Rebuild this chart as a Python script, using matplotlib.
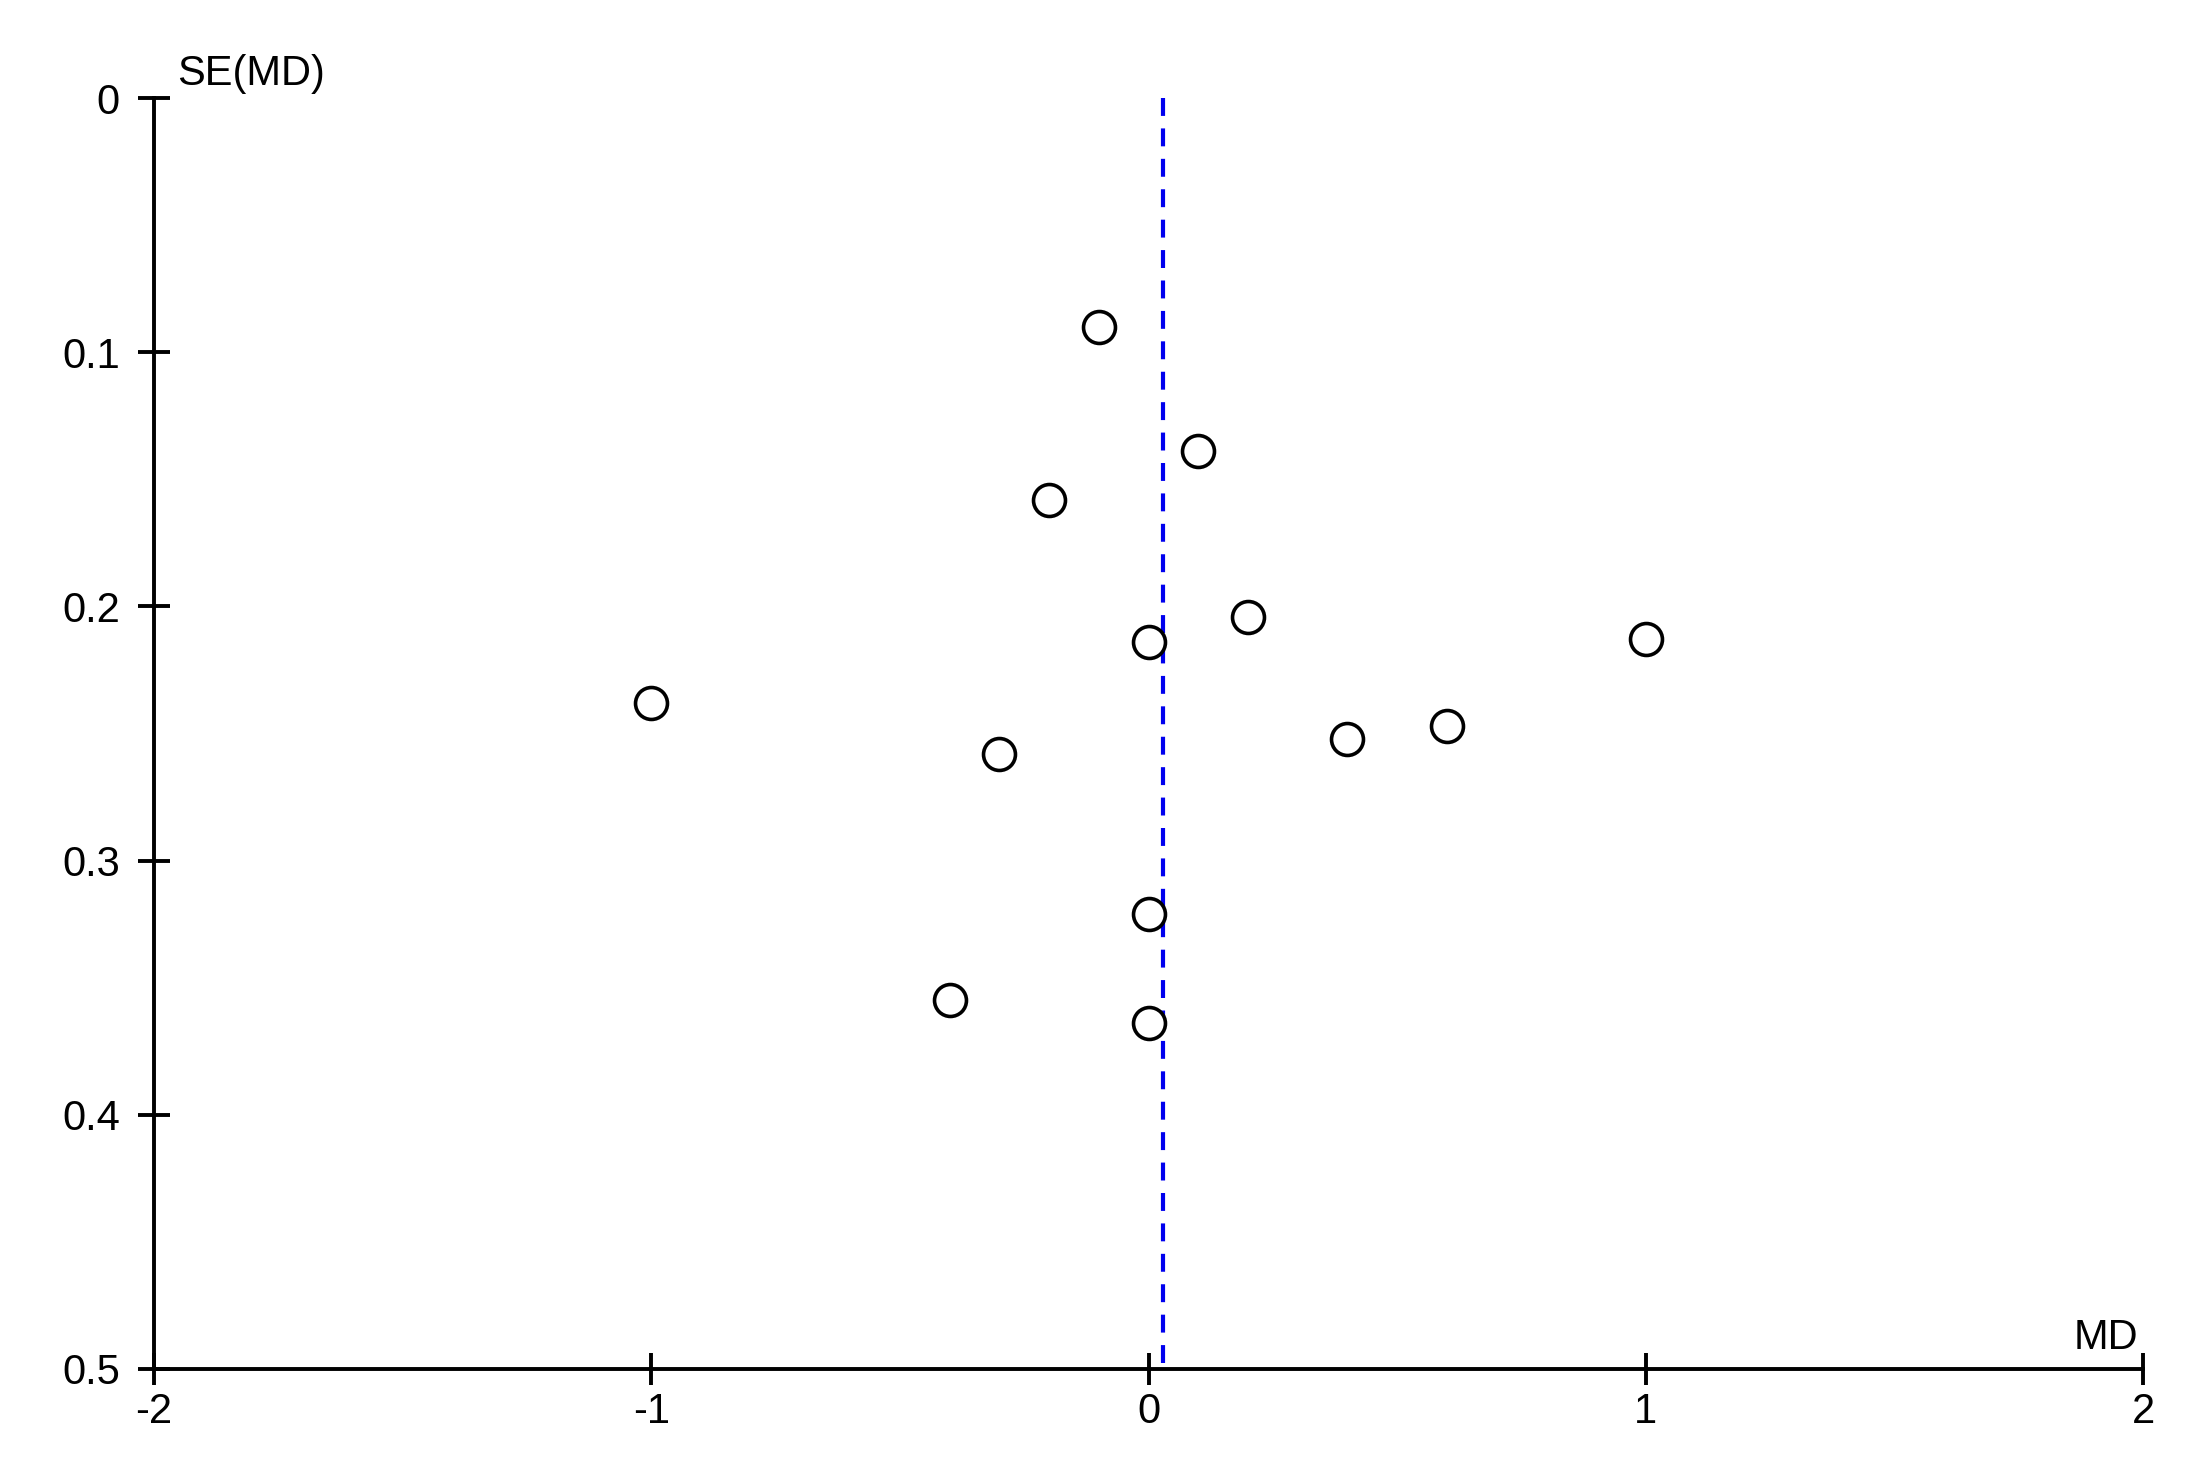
import matplotlib
matplotlib.use("Agg")
import matplotlib.pyplot as plt
from matplotlib import font_manager

plt.rcParams['axes.unicode_minus'] = False
names = {f.name for f in font_manager.fontManager.ttflist}
fam = ['Liberation Sans Narrow', 'Liberation Sans', 'DejaVu Sans']
fam = [f for f in fam if f in names] or ['DejaVu Sans']
plt.rcParams['font.family'] = fam

# Data (mean difference vs. its standard error)
md = [-0.1, 0.1, -0.2, 0.2, 0.0, 1.0, -1.0, -0.3, 0.4, 0.6, 0.0, -0.4, 0.0]
se = [0.090, 0.139, 0.158, 0.204, 0.214, 0.213, 0.238, 0.258, 0.252, 0.247, 0.321, 0.355, 0.364]
pooled_md = 0.03
x_ticks = [-2, -1, 0, 1, 2]
x_tick_labels = ["-2", "-1", "0", "1", "2"]
y_ticks = [0, 0.1, 0.2, 0.3, 0.4, 0.5]
y_tick_labels = ["0", "0.1", "0.2", "0.3", "0.4", "0.5"]

W, H = 2190, 1469
fig = plt.figure(figsize=(W / 100, H / 100), dpi=100)
ax = fig.add_axes([154 / W, 1 - 1369 / H, (2143 - 154) / W, (1369 - 98) / H])

ax.plot([pooled_md, pooled_md], [0, 0.5], color='#0000ee', lw=3.0,
        dashes=(4.3, 3.0), zorder=2)
ax.plot(md, se, linestyle='none', marker='o', markersize=23,
        markerfacecolor='white', markeredgecolor='black', markeredgewidth=2.6,
        zorder=3)

ax.set_xlim(-2, 2)
ax.set_ylim(0.5, 0)
ax.set_xticks(x_ticks)
ax.set_xticklabels(x_tick_labels)
ax.set_yticks(y_ticks)
ax.set_yticklabels(y_tick_labels)

for s in ['top', 'right']:
    ax.spines[s].set_visible(False)
for s in ['left', 'bottom']:
    ax.spines[s].set_linewidth(2.8)
    ax.spines[s].set_color('black')

ax.tick_params(axis='both', direction='inout', length=23, width=2.8,
               labelsize=30, colors='black')
ax.tick_params(axis='y', pad=13)
ax.tick_params(axis='x', pad=5)

fig.text(177 / W, 1 - 85 / H, 'SE(MD)', ha='left', va='baseline', fontsize=30)
fig.text(2138 / W, 1 - 1349 / H, 'MD', ha='right', va='baseline', fontsize=30)

fig.savefig('out.png', dpi=100, facecolor='white')
